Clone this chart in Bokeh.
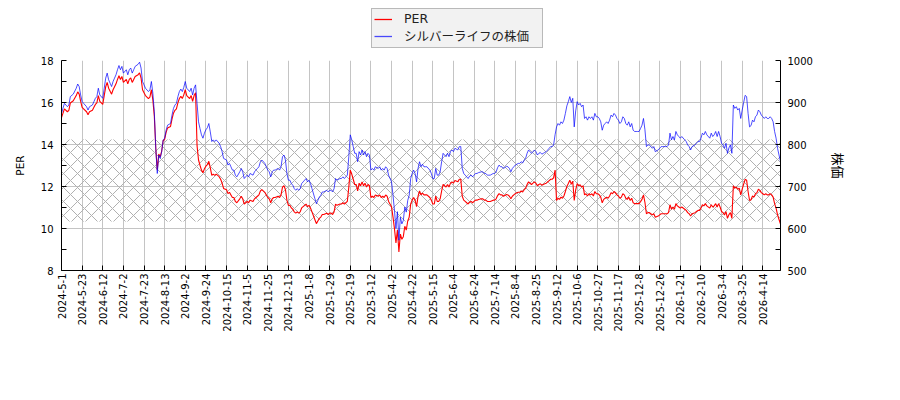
import math
from bokeh.plotting import figure
from bokeh.layouts import column
from bokeh.models import (Range1d, LinearAxis, FixedTicker, Legend, LegendItem,
                          ColumnDataSource)
from bokeh.embed import file_html
from bokeh.resources import INLINE

# ---------------- data ----------------
# trading-day index (0 = 2024-5-1) and closing price
day = [0, 2, 4, 5, 6, 8, 10, 11, 12, 13, 14, 15, 17, 18, 19, 21, 22, 23, 24, 25, 26, 28, 29, 30, 31, 32, 33, 34, 35, 36,
       37, 38, 39, 40, 41, 42, 44, 45, 46, 47, 48, 49, 50, 52, 53, 54, 55, 56, 57, 59, 60, 61, 62, 63, 64, 65, 66, 67, 68, 69,
       70, 71, 72, 74, 75, 76, 77, 78, 79, 80, 81, 82, 83, 84, 85, 87, 88, 89, 90, 91, 92, 93, 94, 95, 96, 97, 98, 99, 100,
       101, 102, 103, 104, 105, 107, 108, 109, 110, 112, 113, 114, 115, 116, 117, 118, 119, 121, 122, 123, 124, 125, 126,
       127, 128, 130, 131, 132, 133, 134, 135, 136, 138, 139, 140, 141, 142, 143, 144, 145, 147, 148, 149, 150, 151, 152,
       153, 154, 155, 156, 157, 158, 159, 160, 161, 162, 163, 164, 165, 166, 167, 168, 169, 170, 172, 173, 174, 175, 176,
       177, 178, 180, 181, 182, 183, 184, 185, 186, 187, 189, 190, 191, 192, 193, 194, 195, 196, 197, 198, 199, 200, 201,
       202, 203, 204, 205, 206, 207, 208, 209, 210, 211, 212, 213, 215, 216, 217, 218, 219, 220, 221, 222, 224, 225, 226,
       227, 228, 229, 230, 231, 232, 233, 234, 235, 236, 237, 238, 239, 240, 241, 242, 243, 244, 245, 246, 247, 248, 250,
       251, 252, 253, 254, 255, 256, 257, 258, 259, 260, 261, 262, 263, 264, 265, 266, 267, 269, 270, 271, 272, 273, 274,
       275, 276, 277, 278, 279, 280, 281, 282, 283, 285, 286, 287, 288, 289, 290, 291, 293, 294, 295, 296, 297, 298, 299,
       300, 302, 303, 304, 305, 306, 307, 308, 310, 311, 312, 313, 314, 315, 316, 317, 319, 320, 321, 322, 323, 324, 325,
       326, 327, 328, 329, 330, 331, 332, 333, 334, 335, 336, 337, 338, 339, 340, 341, 342, 343, 344, 345, 346, 347, 348,
       349, 350, 351, 352, 353, 354, 355, 356, 357, 358, 359, 360, 361, 362, 363, 364, 365, 366, 367, 368, 369, 370, 371,
       372, 373, 374, 375, 376, 377, 378, 379, 380, 381, 382, 383, 384, 385, 386, 387, 388, 389, 390, 391, 392, 393, 394,
       395, 396, 397, 398, 399, 400, 401, 402, 403, 405, 406, 407, 408, 409, 410, 411, 412, 413, 414, 415, 416, 417, 418,
       419, 420, 421, 423, 424, 425, 426, 427, 428, 430, 431, 432, 433, 434, 435, 436, 437, 438, 440, 441, 442, 443, 444,
       445, 446, 447, 448, 449, 450, 451, 452, 453, 454, 455, 456, 457, 458, 459, 460, 461, 462, 463, 464, 465, 466, 467,
       468, 469, 470, 471, 472, 473, 474, 475, 476, 477, 478, 479, 480, 481, 482, 483, 484, 485, 486, 487, 488]

price = [874, 898, 890, 894, 914, 920, 934, 944, 938, 918, 902, 898, 890, 882, 890, 894, 902, 910, 914, 934, 918, 910, 934,
         958, 970, 954, 946, 938, 950, 958, 966, 978, 988, 978, 986, 970, 978, 966, 978, 982, 970, 978, 986, 991, 996, 982,
         950, 942, 934, 926, 930, 950, 922, 878, 790, 731, 775, 767, 783, 811, 815, 834, 846, 850, 870, 886, 894, 898, 914,
         926, 932, 926, 936, 950, 934, 926, 934, 918, 934, 942, 898, 854, 838, 823, 815, 827, 835, 840, 850, 830, 807, 811,
         807, 811, 803, 795, 783, 767, 763, 751, 755, 747, 739, 739, 727, 723, 735, 743, 735, 719, 723, 727, 723, 731, 727,
         735, 739, 743, 747, 759, 763, 755, 747, 739, 735, 723, 735, 739, 739, 743, 739, 747, 771, 775, 763, 731, 715, 715,
         707, 703, 695, 691, 695, 691, 695, 707, 711, 715, 719, 711, 715, 707, 695, 671, 659, 667, 675, 679, 687, 687, 691,
         687, 691, 691, 687, 695, 719, 715, 719, 719, 723, 719, 723, 727, 771, 823, 811, 795, 779, 779, 759, 783, 775, 787,
         775, 783, 771, 779, 775, 739, 743, 739, 747, 743, 747, 739, 743, 739, 747, 743, 727, 711, 679, 643, 600, 640, 572,
         627, 611, 619, 651, 639, 667, 679, 719, 731, 739, 731, 711, 743, 759, 747, 753, 747, 747, 747, 739, 731, 719, 719,
         743, 727, 727, 735, 759, 779, 775, 771, 779, 771, 783, 787, 783, 791, 787, 795, 795, 743, 731, 727, 723, 719, 725,
         727, 723, 727, 731, 731, 733, 735, 735, 731, 731, 727, 727, 727, 731, 731, 735, 745, 751, 747, 747, 743, 748, 747,
         743, 735, 743, 747, 751, 755, 755, 759, 756, 763, 767, 779, 787, 779, 783, 787, 783, 775, 779, 781, 777, 779, 781,
         783, 787, 791, 795, 795, 799, 823, 842, 850, 846, 854, 850, 858, 874, 892, 902, 914, 900, 910, 842, 880, 902, 894,
         898, 890, 894, 862, 866, 858, 866, 862, 866, 858, 874, 866, 866, 862, 854, 834, 846, 850, 854, 850, 858, 870, 866,
         874, 870, 862, 858, 850, 854, 866, 862, 850, 846, 854, 842, 850, 834, 831, 831, 831, 831, 838, 846, 862, 835, 795,
         799, 799, 795, 791, 795, 783, 787, 791, 795, 795, 795, 795, 795, 799, 827, 811, 819, 811, 831, 823, 819, 815, 819,
         811, 807, 799, 795, 787, 795, 799, 803, 807, 807, 815, 827, 823, 831, 823, 815, 827, 819, 823, 831, 819, 831, 819,
         803, 799, 791, 803, 779, 792, 799, 779, 894, 886, 890, 882, 886, 862, 882, 900, 917, 914, 874, 842, 845, 858, 854,
         866, 870, 882, 878, 870, 866, 862, 866, 862, 862, 866, 862, 854, 831, 815, 791, 775, 759]

# earnings per share in force from a given trading-day index
eps_start_day = [0, 92, 336]
eps_value = [57.2, 64.4, 74.3]

# hatched PER band
band_low = 10.33
band_high = 14.24

tick_step = 14
tick_labels = ["2024-5-1", "2024-5-23", "2024-6-12", "2024-7-2", "2024-7-23", "2024-8-13", "2024-9-2",
               "2024-9-24", "2024-10-15", "2024-11-5", "2024-11-25", "2024-12-13", "2025-1-8", "2025-1-29",
               "2025-2-19", "2025-3-12", "2025-4-2", "2025-4-22", "2025-5-15", "2025-6-4", "2025-6-24",
               "2025-7-14", "2025-8-4", "2025-8-25", "2025-9-12", "2025-10-6", "2025-10-27", "2025-11-17",
               "2025-12-8", "2025-12-26", "2026-1-21", "2026-2-10", "2026-3-4", "2026-3-25", "2026-4-14"]

per_ticks = [8, 10, 12, 14, 16, 18]
price_ticks = [500, 600, 700, 800, 900, 1000]
series_names = ["PER", "シルバーライフの株価"]

# ---------------- derived ----------------
per = []
for d, pr in zip(day, price):
    e = eps_value[0]
    for s, v in zip(eps_start_day, eps_value):
        if d >= s:
            e = v
    per.append(pr / e)

src = ColumnDataSource(dict(day=day, price=price, per=per))
tick_pos = [i * tick_step for i in range(len(tick_labels))]

FONT = "DejaVu Sans"
RED = "red"
BLUE = "blue"
BLUE_ALPHA = 0.7

W = 884
LEG_H = 54

p = figure(width=W, height=330, output_backend="svg", toolbar_location=None,
           x_range=Range1d(day[0], day[-1]), y_range=Range1d(per_ticks[0], per_ticks[-1]),
           min_border_left=61, min_border_right=104, min_border_top=6, min_border_bottom=114,
           background_fill_color="white", border_fill_color="white")
p.outline_line_color = None
p.extra_y_ranges = {"price": Range1d(price_ticks[0], price_ticks[-1])}

# band
p.quad(left=day[0], right=day[-1], bottom=band_low, top=band_high,
       fill_color=None, line_color=None,
       hatch_pattern="diagonal_cross", hatch_color="#b0b0b0", hatch_scale=14, hatch_weight=1)

p.line("day", "per", source=src, line_color=RED, line_width=1.1)
p.line("day", "price", source=src, line_color=BLUE, line_alpha=BLUE_ALPHA, line_width=1,
       y_range_name="price")

# axes
xt = FixedTicker(ticks=tick_pos, minor_ticks=[])
p.xaxis.ticker = xt
p.xaxis.major_label_overrides = {t: l for t, l in zip(tick_pos, tick_labels)}
p.xaxis.major_label_orientation = math.pi / 2
p.xgrid.ticker = xt

yt = FixedTicker(ticks=per_ticks, minor_ticks=[v + 1 for v in per_ticks[:-1]])
p.yaxis.ticker = yt
p.ygrid.ticker = FixedTicker(ticks=per_ticks)
p.yaxis.axis_label = "PER"

ax2 = LinearAxis(y_range_name="price", axis_label="株価",
                 ticker=FixedTicker(ticks=price_ticks, minor_ticks=[v + 50 for v in price_ticks[:-1]]))
p.add_layout(ax2, "right")

for ax in [p.xaxis[0], p.yaxis[0], ax2]:
    ax.axis_line_color = "black"
    ax.major_tick_in = 5
    ax.major_tick_out = 0
    ax.minor_tick_in = 5
    ax.minor_tick_out = 0
    ax.major_tick_line_color = "black"
    ax.minor_tick_line_color = "black"
    ax.major_label_text_font = FONT
    ax.major_label_text_font_size = "10px"
    ax.major_label_text_color = "black"
    ax.axis_label_text_font = FONT
    ax.axis_label_text_font_size = "10.5px"
    ax.axis_label_text_font_style = "normal"
    ax.axis_label_text_color = "black"

p.xaxis.major_label_standoff = 3
p.yaxis.major_label_standoff = 8
p.yaxis.axis_label_standoff = 12
ax2.major_label_standoff = 7
ax2.axis_label_standoff = 13
ax2.axis_label_text_font = "Noto Sans CJK JP"
ax2.axis_label_text_font_size = "13px"

for g in (p.xgrid, p.ygrid):
    g.grid_line_color = "#c4c4c4"
    g.grid_line_width = 1

# ---------------- legend strip above the chart ----------------
lg = figure(width=W, height=LEG_H, output_backend="svg", toolbar_location=None,
            x_range=Range1d(0, 1), y_range=Range1d(0, 1),
            min_border_left=0, min_border_right=0, min_border_top=0, min_border_bottom=0,
            background_fill_color="white", border_fill_color="white")
lg.outline_line_color = None
lg.axis.visible = False
lg.grid.visible = False
k1 = lg.line(x=[math.nan], y=[math.nan], line_color=RED, line_width=1.3)
k2 = lg.line(x=[math.nan], y=[math.nan], line_color=BLUE, line_alpha=BLUE_ALPHA, line_width=1.3)
legend = Legend(items=[LegendItem(label=series_names[0], renderers=[k1]),
                       LegendItem(label=series_names[1], renderers=[k2])],
                location=(310, 6), orientation="vertical",
                background_fill_color="#f2f2f2", background_fill_alpha=1,
                border_line_color="#808080", border_line_width=1,
                label_text_font="DejaVu Sans, Noto Sans CJK JP", label_text_font_size="12.5px",
                label_text_color="#222222",
                padding=2, spacing=0, margin=0, label_height=14, glyph_height=14, glyph_width=18,
                label_width=136, label_standoff=12)
lg.add_layout(legend)

layout = column(lg, p, spacing=0)
open("out.html", "w").write(file_html(layout, INLINE))
